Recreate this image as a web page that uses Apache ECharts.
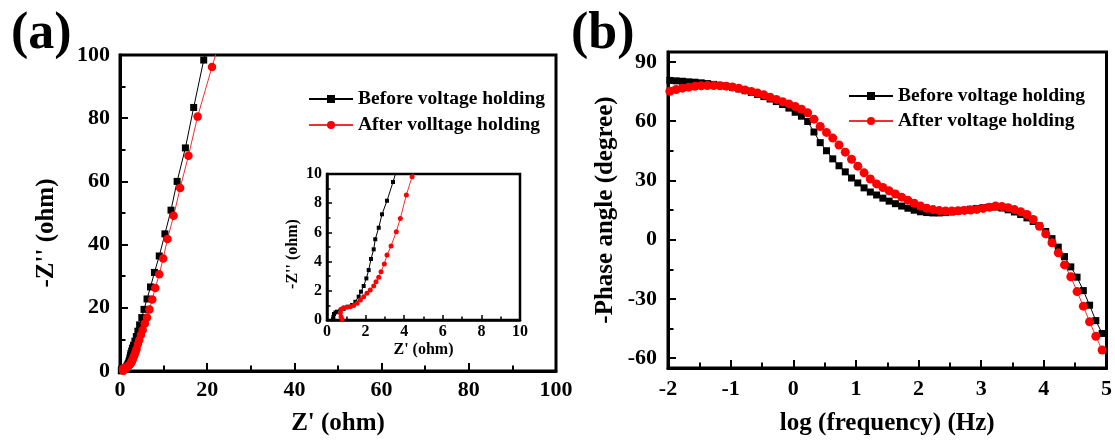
<!DOCTYPE html>
<html><head><meta charset="utf-8">
<script src="https://cdn.jsdelivr.net/npm/echarts@6/dist/echarts.min.js"></script>
<style>html,body{margin:0;padding:0;background:#fff}#c{width:1115px;height:441px}</style>
</head><body><div id="c"></div>
<script>
const FONT = '"Liberation Serif","Times New Roman",serif';

// Panel (a): Nyquist plot data (Z' , -Z'')
const nyqBeforeRe = [0.31,0.33,0.36,0.44,0.52,0.69,0.86,1.07,1.30,1.47,1.64,1.76,1.90,2.04,2.16,2.28,2.42,2.50,2.68,2.85,3.11,3.42,3.75,4.10,4.50,5.00,5.50,6.20,7.00,7.90,9.00,10.3,11.7,13.1,15.0,16.9,19.2,21.8];
const nyqBeforeIm = [0.05,0.20,0.41,0.52,0.57,0.64,0.75,0.91,1.03,1.25,1.60,1.94,2.33,2.85,3.42,4.18,4.84,5.53,6.32,7.24,8.17,9.45,10.9,12.6,14.6,16.9,19.5,22.8,26.6,31.2,36.4,43.4,50.9,60.0,70.6,83.4,98.4,112];
const nyqAfterRe = [0.78,0.73,0.69,0.73,0.86,1.04,1.21,1.38,1.56,1.73,1.90,2.07,2.24,2.42,2.54,2.68,2.80,2.97,3.11,3.32,3.59,3.80,4.11,4.41,4.80,5.20,5.70,6.20,6.75,7.40,8.10,9.00,9.90,10.9,12.3,13.8,15.7,17.8,21.1,24.3];
const nyqAfterIm = [0.05,0.23,0.50,0.73,0.84,0.87,0.91,1.00,1.14,1.37,1.60,1.83,2.05,2.33,2.62,2.92,3.31,3.84,4.45,5.07,6.05,6.96,8.56,9.82,11.4,13.0,15.0,16.9,19.5,22.6,26.3,30.6,35.6,41.8,49.1,57.9,68.1,80.5,96.2,111];

// Panel (b): Bode phase data
const logFreq = [-1.97,-1.87,-1.77,-1.67,-1.57,-1.47,-1.37,-1.27,-1.17,-1.07,
  -0.97,-0.87,-0.77,-0.67,-0.57,-0.47,-0.37,-0.27,-0.17,-0.07,
  0.03,0.13,0.23,0.33,0.43,0.53,0.63,0.73,0.83,0.93,
  1.03,1.13,1.23,1.33,1.43,1.53,1.63,1.73,1.83,1.93,
  2.03,2.13,2.23,2.33,2.43,2.53,2.63,2.73,2.83,2.93,
  3.03,3.13,3.23,3.33,3.43,3.53,3.63,3.73,3.83,3.93,
  4.03,4.13,4.23,4.33,4.43,4.53,4.63,4.73,4.83,4.93];
const phaseBefore = [80.6,80.4,80.2,79.9,79.7,79.4,79.0,78.6,78.1,77.6,
  77.0,76.3,75.4,74.5,73.5,72.4,71.2,69.9,68.4,66.6,
  64.5,62.5,59.8,54.5,49.1,45.0,40.9,37.4,34.3,31.2,
  28.7,26.2,24.1,22.6,21.0,19.5,18.2,17.0,15.9,14.9,
  14.1,13.7,13.5,13.5,13.7,14.0,14.4,14.9,15.4,15.8,
  16.2,16.5,16.5,16.0,15.1,14.0,12.7,11.0,9.2,6.9,
  4.1,0.5,-3.8,-8.6,-13.8,-19.0,-25.8,-33.2,-41.0,-47.5];
const phaseAfter = [75.1,76.0,76.7,77.2,77.6,77.9,78.0,78.0,77.9,77.7,
  77.3,76.6,75.8,75.0,74.2,73.3,72.1,71.0,69.8,68.7,
  67.4,66.0,64.2,61.0,57.3,54.3,51.4,47.9,44.3,40.7,
  37.2,33.8,30.7,28.2,26.4,24.7,23.1,21.5,20.0,18.4,
  17.0,15.9,15.2,14.7,14.5,14.5,14.6,14.8,15.0,15.3,
  15.8,16.4,17.0,16.8,16.2,15.2,14.1,12.7,10.2,6.8,
  2.9,-1.6,-6.7,-12.8,-18.8,-26.3,-33.7,-41.6,-48.9,-55.9];

const phaseStep = 30;
const legendA = ['Before voltage holding','After volltage holding'];
const legendB = ['Before voltage holding','After voltage holding'];

const zip = (a, b) => a.map((v, i) => [v, b[i]]);

const lblStyle = (size, margin) => ({fontFamily: FONT, fontWeight: 'bold', fontSize: size, color: '#000', margin: margin});
const nameStyle = (size, pad) => ({fontFamily: FONT, fontWeight: 'bold', fontSize: size, color: '#000', padding: pad || 0});
const tick = (len, w) => ({show: true, inside: true, length: len, lineStyle: {color: '#000', width: w}});
const minor = (len, w) => ({show: true, splitNumber: 2, length: len, lineStyle: {color: '#000', width: w}});
const axLine = (w) => ({show: true, onZero: false, lineStyle: {color: '#000', width: w}});

const chart = echarts.init(document.getElementById('c'), null, {renderer: 'canvas'});
chart.setOption({
  animation: false,
  backgroundColor: '#fff',
  title: [
    {text: '(a)', left: 11, top: 9, padding: 0, textStyle: {fontFamily: FONT, fontWeight: 'bold', fontSize: 52, color: '#000'}},
    {text: '(b)', left: 571, top: 9, padding: 0, textStyle: {fontFamily: FONT, fontWeight: 'bold', fontSize: 52, color: '#000'}}
  ],
  legend: [
    {data: legendA, orient: 'vertical', left: 308, top: 89, padding: 0, itemWidth: 44, itemHeight: 10, itemGap: 6, selectedMode: false,
     textStyle: {fontFamily: FONT, fontWeight: 'bold', fontSize: 19.5, color: '#000', lineHeight: 20}},
    {data: legendB, orient: 'vertical', left: 848, top: 86, padding: 0, itemWidth: 44, itemHeight: 10, itemGap: 5, selectedMode: false,
     textStyle: {fontFamily: FONT, fontWeight: 'bold', fontSize: 19.5, color: '#000', lineHeight: 20}}
  ],
  grid: [
    {left: 120, top: 55, width: 436, height: 321, show: true, borderColor: '#000', borderWidth: 3},
    {left: 327, top: 174, width: 193, height: 146, show: true, borderColor: '#000', borderWidth: 2.5, backgroundColor: '#fff'},
    {left: 668, top: 52, width: 439, height: 321, show: true, borderColor: '#000', borderWidth: 3}
  ],
  xAxis: [
    {gridIndex: 0, type: 'value', min: 0, max: 100, interval: 20, position: 'bottom', axisLine: axLine(3), splitLine: {show: false},
     axisTick: tick(8, 2), minorTick: minor(5.5, 2), axisLabel: lblStyle(22, 8),
     name: "Z' (ohm)", nameLocation: 'middle', nameGap: 40, nameTextStyle: nameStyle(25)},
    {gridIndex: 1, type: 'value', min: 0, max: 10, interval: 2, position: 'bottom', axisLine: axLine(2.5), splitLine: {show: false},
     axisTick: tick(5, 1.5), minorTick: minor(3.5, 1.5), axisLabel: lblStyle(16, 4),
     name: "Z' (ohm)", nameLocation: 'middle', nameGap: 22, nameTextStyle: nameStyle(16)},
    {gridIndex: 2, type: 'value', min: -2, max: 5, interval: 1, position: 'bottom', axisLine: axLine(3), splitLine: {show: false},
     axisTick: tick(8, 2), minorTick: minor(5.5, 2), axisLabel: lblStyle(22, 10),
     name: 'log (frequency) (Hz)', nameLocation: 'middle', nameGap: 43, nameTextStyle: nameStyle(25)}
  ],
  yAxis: [
    {gridIndex: 0, type: 'value', min: 0, max: 100, interval: 20, position: 'left', axisLine: axLine(3), splitLine: {show: false},
     axisTick: tick(8, 2), minorTick: minor(5.5, 2), axisLabel: lblStyle(22, 10),
     name: "-Z'' (ohm)", nameLocation: 'middle', nameGap: 61, nameTextStyle: nameStyle(25, [0, 40, 0, 0])},
    {gridIndex: 1, type: 'value', min: 0, max: 10, interval: 2, position: 'left', axisLine: axLine(2.5), splitLine: {show: false},
     axisTick: tick(5, 1.5), minorTick: minor(3.5, 1.5), axisLabel: lblStyle(16, 5),
     name: "-Z'' (ohm)", nameLocation: 'middle', nameGap: 26, nameTextStyle: nameStyle(16, [0, 14, 0, 0])},
    {gridIndex: 2, type: 'value', min: -65, max: 95, splitNumber: 5, minInterval: phaseStep, maxInterval: phaseStep,
     position: 'left', axisLine: axLine(3), splitLine: {show: false},
     axisTick: tick(8, 2), minorTick: minor(5.5, 2),
     axisLabel: Object.assign(lblStyle(22, 11), {showMinLabel: false, showMaxLabel: false}),
     name: '-Phase angle (degree)', nameLocation: 'middle', nameGap: 50, nameTextStyle: nameStyle(25)}
  ],
  series: [
    {name: legendA[0], type: 'line', xAxisIndex: 0, yAxisIndex: 0, data: zip(nyqBeforeRe, nyqBeforeIm),
     symbol: 'rect', symbolSize: 7, itemStyle: {color: '#000'}, lineStyle: {color: '#000', width: 1}},
    {name: legendA[1], type: 'line', xAxisIndex: 0, yAxisIndex: 0, data: zip(nyqAfterRe, nyqAfterIm),
     symbol: 'circle', symbolSize: 8.5, itemStyle: {color: '#ff0000'}, lineStyle: {color: '#f03030', width: 1}},
    {name: 'inset-before', type: 'line', xAxisIndex: 1, yAxisIndex: 1, data: zip(nyqBeforeRe, nyqBeforeIm),
     symbol: 'rect', symbolSize: 4, itemStyle: {color: '#000'}, lineStyle: {color: '#000', width: 1}},
    {name: 'inset-after', type: 'line', xAxisIndex: 1, yAxisIndex: 1, data: zip(nyqAfterRe, nyqAfterIm),
     symbol: 'circle', symbolSize: 5, itemStyle: {color: '#ff0000'}, lineStyle: {color: '#f03030', width: 1}},
    {name: legendB[0], type: 'line', xAxisIndex: 2, yAxisIndex: 2, data: zip(logFreq, phaseBefore),
     symbol: 'rect', symbolSize: 7, itemStyle: {color: '#000'}, lineStyle: {color: '#000', width: 1}},
    {name: legendB[1], type: 'line', xAxisIndex: 2, yAxisIndex: 2, data: zip(logFreq, phaseAfter),
     symbol: 'circle', symbolSize: 9, itemStyle: {color: '#ff0000'}, lineStyle: {color: '#f03030', width: 1}}
  ]
});
</script></body></html>
